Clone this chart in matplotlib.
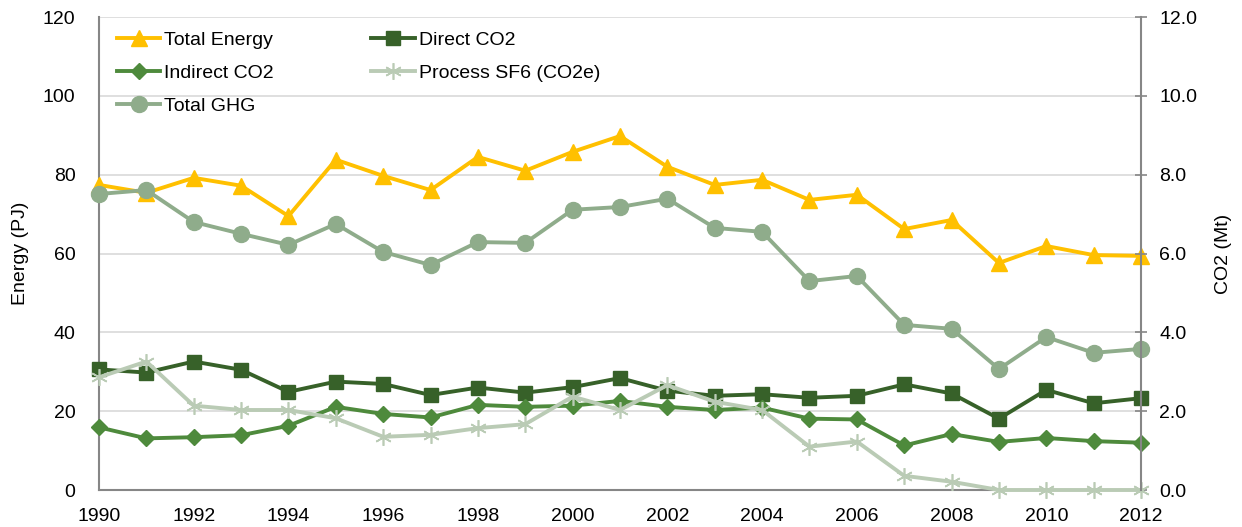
import matplotlib
matplotlib.use('Agg')
import matplotlib.pyplot as plt

plt.rcParams['font.family'] = ['Liberation Sans', 'DejaVu Sans']

# 数据
years = list(range(1990, 2013))
total_energy = [77.4, 75.4, 79.2, 77.2, 69.5, 83.8, 79.7, 76.1, 84.5, 81.0, 85.8, 89.8,
                82.0, 77.4, 78.7, 73.6, 74.9, 66.2, 68.5, 57.6, 61.9, 59.6, 59.4]
direct_co2 = [3.06, 2.98, 3.26, 3.05, 2.49, 2.75, 2.69, 2.41, 2.60, 2.47, 2.61, 2.84,
              2.52, 2.39, 2.43, 2.34, 2.39, 2.68, 2.45, 1.81, 2.54, 2.20, 2.33]
indirect_co2 = [1.59, 1.31, 1.34, 1.39, 1.63, 2.11, 1.93, 1.84, 2.16, 2.11, 2.14, 2.26,
                2.11, 2.03, 2.09, 1.81, 1.79, 1.13, 1.42, 1.22, 1.32, 1.24, 1.20]
process_sf6 = [2.86, 3.26, 2.14, 2.03, 2.03, 1.82, 1.35, 1.40, 1.57, 1.67, 2.37, 2.03,
               2.66, 2.24, 2.03, 1.10, 1.23, 0.36, 0.21, 0.0, 0.0, 0.0, 0.0]
total_ghg = [7.51, 7.61, 6.80, 6.50, 6.22, 6.75, 6.04, 5.71, 6.29, 6.27, 7.11, 7.18,
             7.39, 6.65, 6.55, 5.30, 5.43, 4.19, 4.09, 3.07, 3.88, 3.48, 3.58]
xticks = list(range(1990, 2013, 2))

fig = plt.figure(figsize=(12.42, 5.27), dpi=100)
ax = fig.add_axes([0.0797, 0.0702, 0.8390, 0.8975])
ax2 = ax.twinx()

fs = 14
gray = '#868686'

# 左轴: 能源
l1, = ax.plot(years, total_energy, color='#FFC000', lw=2.8, marker='^', ms=11,
              label='Total Energy', clip_on=False, zorder=3)
ax.set_xlim(1990, 2012)
ax.set_ylim(0, 120)
ax.set_yticks(range(0, 121, 20))
ax.set_xticks(xticks)
ax.grid(axis='y', color='#D9D9D9', lw=1.2)
ax.set_axisbelow(True)
ax.tick_params(axis='y', length=0, labelsize=fs, pad=17)
ax.tick_params(axis='x', length=0, labelsize=fs, pad=13)
ax.set_ylabel('Energy (PJ)', fontsize=fs, labelpad=10)
for s in ['top', 'right']:
    ax.spines[s].set_visible(False)
for s in ['left', 'bottom']:
    ax.spines[s].set_color(gray)
    ax.spines[s].set_linewidth(1.5)

# 右轴: CO2
l2, = ax2.plot(years, direct_co2, color='#376129', lw=2.8, marker='s', ms=9.5,
               label='Direct CO2', clip_on=False)
l3, = ax2.plot(years, indirect_co2, color='#4E8A3C', lw=2.8, marker='D', ms=8.5,
               label='Indirect CO2', clip_on=False)
l4, = ax2.plot(years, process_sf6, color='#BACBB5', lw=2.8, marker=(6, 2, 0), ms=12,
               mew=1.2, label='Process SF6 (CO2e)', clip_on=False)
l5, = ax2.plot(years, total_ghg, color='#8FAC8B', lw=2.8, marker='o', ms=11.5,
               label='Total GHG', clip_on=False)
ax2.set_ylim(0, 12)
ax2.set_yticks(range(0, 13, 2))
ax2.set_yticklabels([f'{v:.1f}' for v in range(0, 13, 2)])
ax2.tick_params(axis='y', direction='inout', length=8.5, width=1.2, color=gray,
                labelsize=fs, pad=9)
ax2.set_ylabel('CO2 (Mt)', fontsize=fs, labelpad=13, rotation=90)
for s in ['top', 'left', 'bottom']:
    ax2.spines[s].set_visible(False)
ax2.spines['right'].set_color(gray)
ax2.spines['right'].set_linewidth(1.5)

# 图例 (按行排列)
handles = [l1, l3, l5, l2, l4]
ax2.legend(handles=handles, labels=[h.get_label() for h in handles], ncol=2,
           loc='upper left', bbox_to_anchor=(0.017, 0.969), frameon=False,
           fontsize=fs, handlelength=2.25, handletextpad=0.2, columnspacing=5.0,
           labelspacing=0.78, borderaxespad=0, borderpad=0)

fig.savefig('out.png', dpi=100)
